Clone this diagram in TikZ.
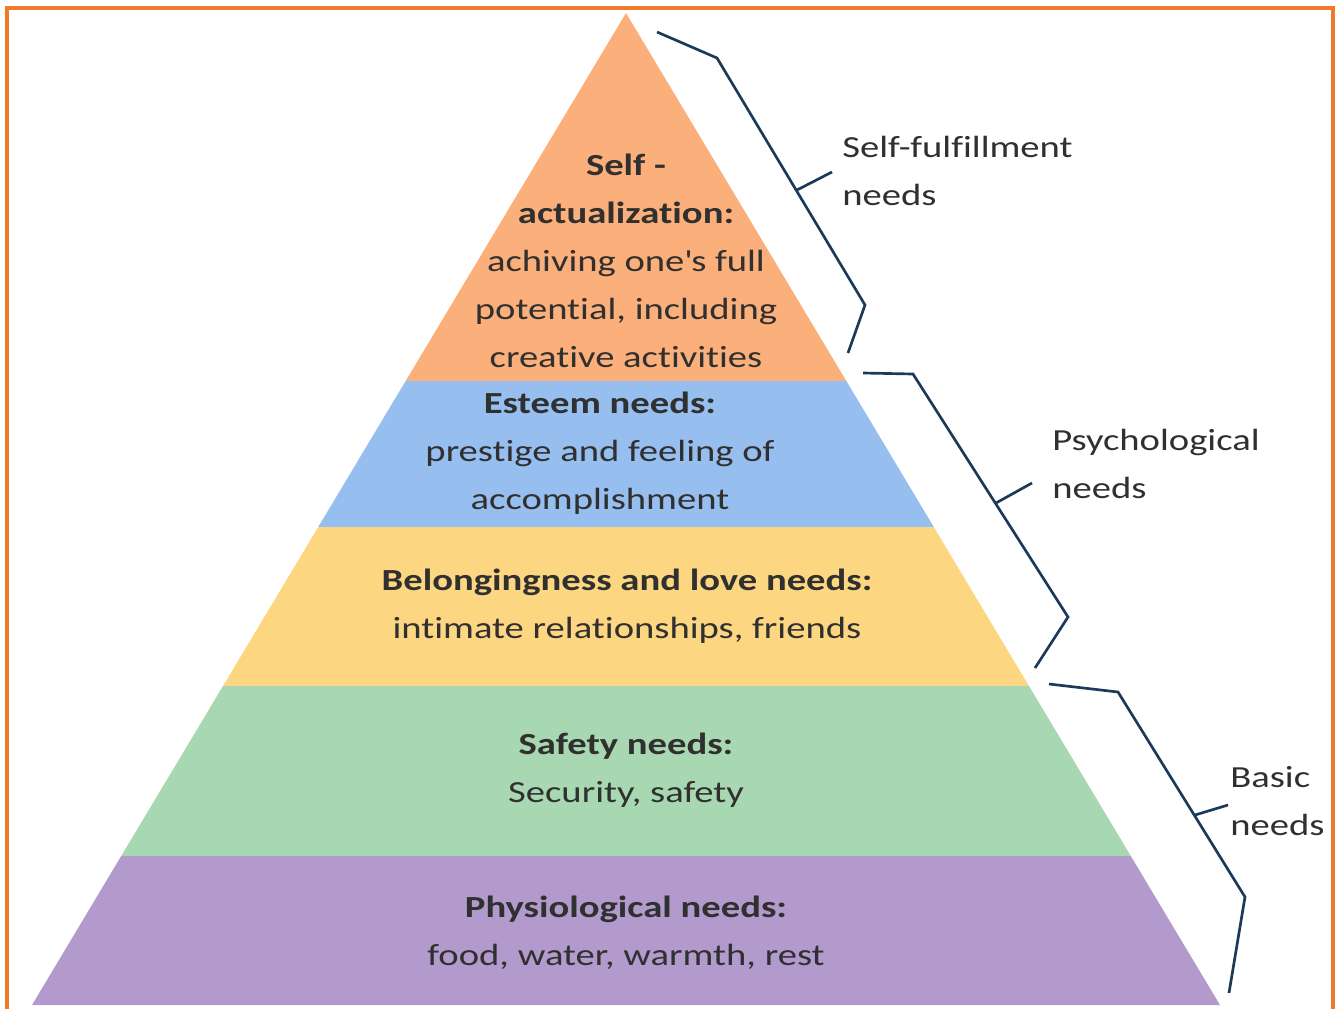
\documentclass[tikz,border=0pt]{standalone}
\usepackage{fontspec}
\setmainfont{Carlito}[FakeStretch=1.26, Ligatures={NoCommon}]

\definecolor{frameorange}{HTML}{F07A2B}
\definecolor{selfcol}{HTML}{FBAF7A}
\definecolor{esteemcol}{HTML}{96BEEE}
\definecolor{lovecol}{HTML}{FDD682}
\definecolor{safecol}{HTML}{A8D8B1}
\definecolor{physcol}{HTML}{B39ACC}
\definecolor{bracecol}{HTML}{1B3A5A}
\definecolor{textgray}{HTML}{303030}

\begin{document}
\begin{tikzpicture}[
            x=0.75pt, y=-0.75pt,
            font=\fontsize{23}{36}\selectfont,
            layertext/.style={align=center, text=textgray, inner sep=0pt},
            sidelabel/.style={anchor=west, align=left, text=textgray, inner sep=0pt},
            brace/.style={draw=bracecol, line width=2pt, line join=miter}
        ]

            \useasboundingbox (0,0) rectangle (1336,1008);

            % --- Cornice arancione ---
            \draw[line width=3pt, frameorange] (7,8) rectangle (1333,1040);

            % --- Piramide (fasce ritagliate dal triangolo) ---
            \coordinate (apex) at (626,13);
            \coordinate (baseL) at (32,1005);
            \coordinate (baseR) at (1220,1005);
            \begin{scope}
                \clip (apex) -- (baseR) -- (baseL) -- cycle;
                \fill[selfcol] (0,0) rectangle (1336,381);
                \fill[esteemcol] (0,381) rectangle (1336,527);
                \fill[lovecol] (0,527) rectangle (1336,686);
                \fill[safecol] (0,686) rectangle (1336,856);
                \fill[physcol] (0,856) rectangle (1336,1008);
            \end{scope}

            % Testi dei livelli
            \node[layertext] (self) at (626,261) {\textbf{Self -}\\\textbf{actualization:}\\achiving one\textquotesingle s full\\potential, including\\creative activities};
            \node[layertext] (esteem) at (600,453) {\textbf{Esteem needs:}\\prestige and feeling of\\accomplishment};
            \node[layertext] (love) at (627,606) {\textbf{Belongingness and love needs:}\\intimate relationships, friends};
            \node[layertext] (safety) at (626,770) {\textbf{Safety needs:}\\Security, safety};
            \node[layertext] (physio) at (626,933) {\textbf{Physiological needs:}\\food, water, warmth, rest};

            % --- Parentesi a destra ---
            \coordinate (b1s) at (657,32);
            \coordinate (b1a) at (717,58);
            \coordinate (b1b) at (865,305);
            \coordinate (b1e) at (848,353);
            \coordinate (b1m) at (797,190);
            \coordinate (b1t) at (832,172);
            \draw[brace] (b1s) -- (b1a) -- (b1b) -- (b1e);
            \draw[brace] (b1m) -- (b1t);

            \coordinate (b2s) at (863,373);
            \coordinate (b2a) at (913,374);
            \coordinate (b2b) at (1068,617);
            \coordinate (b2e) at (1035,668);
            \coordinate (b2m) at (996,503);
            \coordinate (b2t) at (1032,483);
            \draw[brace] (b2s) -- (b2a) -- (b2b) -- (b2e);
            \draw[brace] (b2m) -- (b2t);

            \coordinate (b3s) at (1049,684);
            \coordinate (b3a) at (1118,692);
            \coordinate (b3b) at (1245,897);
            \coordinate (b3e) at (1229,993);
            \coordinate (b3m) at (1195,815);
            \coordinate (b3t) at (1228,805);
            \draw[brace] (b3s) -- (b3a) -- (b3b) -- (b3e);
            \draw[brace] (b3m) -- (b3t);

            % Etichette dei gruppi
            \node[sidelabel] (fulfil) at (842,171) {Self-fulfillment\\needs};
            \node[sidelabel] (psych) at (1052,464) {Psychological\\needs};
            \node[sidelabel] (basic) at (1230,801) {Basic\\needs};

    \end{tikzpicture}
\end{document}
